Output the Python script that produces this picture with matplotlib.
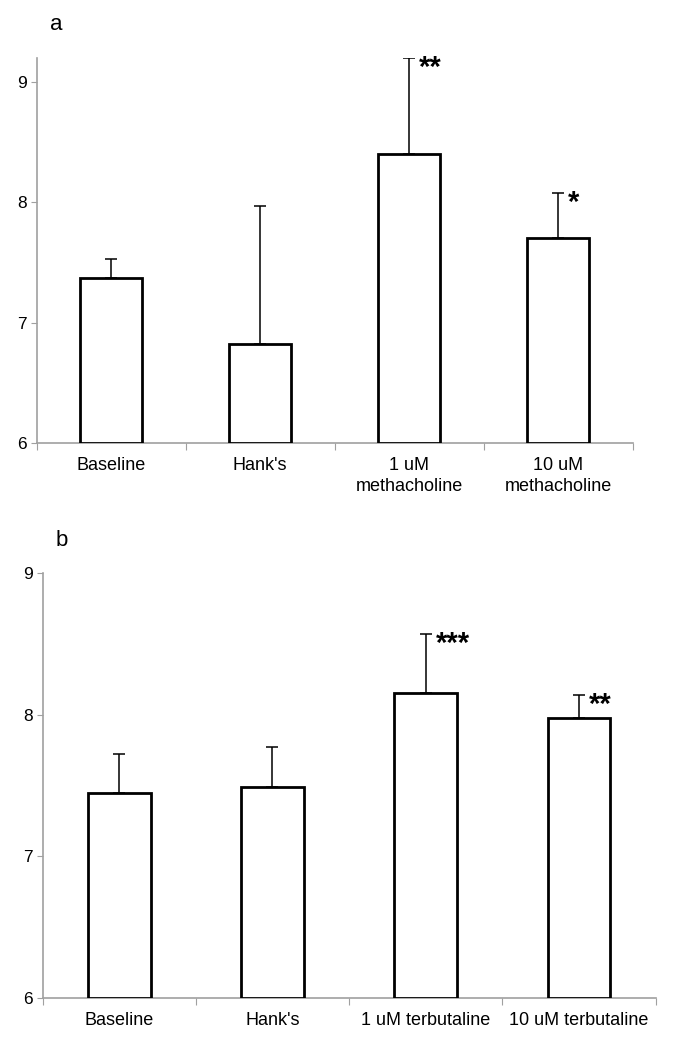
import numpy as np
import matplotlib
matplotlib.use('Agg')
import matplotlib.pyplot as plt

plt.rcParams['font.family'] = ['Liberation Sans', 'DejaVu Sans']

# 数据
labels_a = ['Baseline', "Hank's", '1 uM\nmethacholine', '10 uM\nmethacholine']
means_a = [7.37, 6.82, 8.40, 7.70]
err_a = [0.16, 1.15, 0.80, 0.375]
stars_a = ['', '', '**', '*']

labels_b = ['Baseline', "Hank's", '1 uM terbutaline', '10 uM terbutaline']
means_b = [7.45, 7.49, 8.155, 7.98]
err_b = [0.27, 0.28, 0.415, 0.16]
stars_b = ['', '', '***', '**']

W, H = 677, 1050
fig = plt.figure(figsize=(W / 100, H / 100), dpi=100)

grey = '#a0a0a0'


def panel(rect, labels, means, err, stars, ymax, tag, tag_xy, bw):
    ax = fig.add_axes(rect)
    x = np.arange(len(means))
    ax.bar(x, [m - 6 for m in means], bottom=6, width=bw, color='white',
           edgecolor='black', linewidth=2.0, zorder=3)
    ax.errorbar(x, means, yerr=[np.zeros(len(err)), err], fmt='none',
                ecolor='black', elinewidth=1.1, capsize=4, capthick=1.1, zorder=2)
    # 显著性星号
    for xi, m, e, s in zip(x, means, err, stars):
        if s:
            ax.annotate(s, (xi, m + e), xytext=(7, -7), textcoords='offset points',
                        fontsize=21, fontweight='bold', ha='left', va='center')
    ax.set_xlim(-0.5, len(means) - 0.5)
    ax.set_ylim(6, ymax)
    ax.set_yticks([6, 7, 8, 9])
    ax.set_xticks(np.arange(len(means) + 1) - 0.5)
    ax.set_xticklabels([])
    ax.set_xticks(x, minor=True)
    ax.set_xticklabels(labels, minor=True, fontsize=13, linespacing=1.3)
    ax.tick_params(axis='x', which='minor', length=0, pad=10)
    ax.tick_params(axis='x', which='major', length=5, color=grey, direction='out')
    ax.tick_params(axis='y', length=4, color=grey, labelsize=12.5, pad=3)
    for s in ['top', 'right']:
        ax.spines[s].set_visible(False)
    for s in ['left', 'bottom']:
        ax.spines[s].set_color(grey)
        ax.spines[s].set_linewidth(1.2)
    fig.text(tag_xy[0] / W, 1 - tag_xy[1] / H, tag, fontsize=16,
             ha='left', va='center')
    return ax


panel([36.5 / W, 1 - 443 / H, 596 / W, 385 / H], labels_a, means_a, err_a,
      stars_a, 9.2, 'a', (50, 25), 0.415)
panel([42.6 / W, 1 - 998 / H, 613 / W, 425 / H], labels_b, means_b, err_b,
      stars_b, 9.0, 'b', (56, 540), 0.41)

fig.savefig('out.png', dpi=100)
